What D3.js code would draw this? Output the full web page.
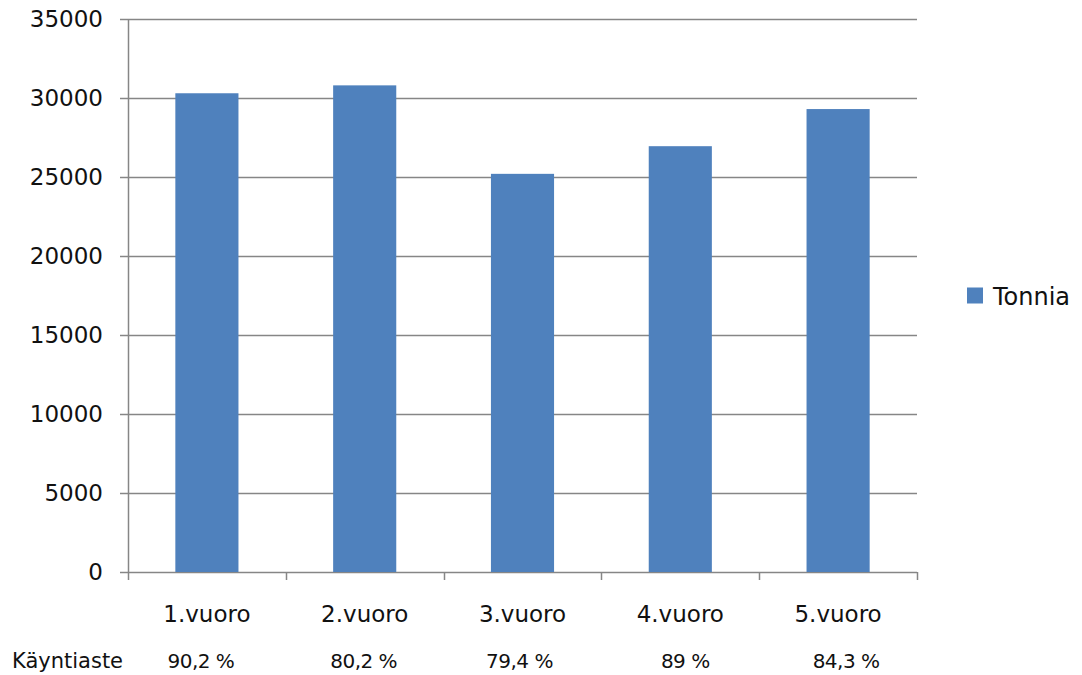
<!DOCTYPE html>
<html>
<head>
<meta charset="utf-8">
<script src="https://cdn.jsdelivr.net/npm/d3@7"></script>
<style>
  body { margin: 0; background: #fff; }
  text { font-family: "DejaVu Sans", Verdana, sans-serif; fill: #111; }
</style>
</head>
<body>
<div id="chart"></div>
<script>
// chart data
var shifts = ["1.vuoro", "2.vuoro", "3.vuoro", "4.vuoro", "5.vuoro"];
var tonnes = [30300, 30800, 25200, 26950, 29300];
var utilization = ["90,2 %", "80,2 %", "79,4 %", "89 %", "84,3 %"];
var yTicks = [0, 5000, 10000, 15000, 20000, 25000, 30000, 35000];
var seriesName = "Tonnia";
var rowLabel = "Käyntiaste";

var margin = { top: 19, right: 165, bottom: 103, left: 128 };
var width = 1082 - margin.left - margin.right,
    height = 675 - margin.top - margin.bottom;

var svg = d3.select("#chart").append("svg")
  .attr("width", 1082)
  .attr("height", 675)
  .append("g")
  .attr("transform", "translate(" + margin.left + "," + margin.top + ")");

var x = d3.scaleBand()
  .domain(shifts)
  .range([0, width])
  .padding(0);

var y = d3.scaleLinear()
  .domain([0, 35000])
  .range([height, 0]);

// gridlines
svg.append("g")
  .attr("class", "grid")
  .selectAll("line")
  .data(yTicks)
  .enter().append("line")
  .attr("x1", -8)
  .attr("x2", width)
  .attr("y1", function (d) { return Math.round(y(d)) + 0.5; })
  .attr("y2", function (d) { return Math.round(y(d)) + 0.5; })
  .attr("stroke", "#868686")
  .attr("stroke-width", 1.5);

// y-axis labels
var yAxis = d3.axisLeft(y)
  .tickValues(yTicks)
  .tickFormat(d3.format("d"))
  .tickSize(0)
  .tickPadding(25);

svg.append("g")
  .attr("class", "y-axis")
  .call(yAxis)
  .call(function (g) { g.select(".domain").remove(); })
  .selectAll("text")
  .style("font-size", "23px")
  .style("fill", "#111");

svg.append("line")
  .attr("x1", 0.5).attr("x2", 0.5)
  .attr("y1", 0).attr("y2", height)
  .attr("stroke", "#868686")
  .attr("stroke-width", 1.5);

// x-axis ticks at category boundaries
var bounds = shifts.map(function (d) { return x(d); }).concat([width]);
svg.append("g")
  .selectAll("line")
  .data(bounds)
  .enter().append("line")
  .attr("x1", function (d) { return Math.round(d) + 0.5; })
  .attr("x2", function (d) { return Math.round(d) + 0.5; })
  .attr("y1", height)
  .attr("y2", height + 8)
  .attr("stroke", "#868686")
  .attr("stroke-width", 1.5);

// bars (gap width 150%)
var barW = x.bandwidth() / 2.5;
svg.append("g")
  .selectAll("rect")
  .data(tonnes)
  .enter().append("rect")
  .attr("x", function (d, i) { return x(shifts[i]) + (x.bandwidth() - barW) / 2; })
  .attr("y", function (d) { return y(d); })
  .attr("width", barW)
  .attr("height", function (d) { return height - y(d); })
  .attr("fill", "#4F81BD");

// category labels
svg.append("g")
  .selectAll("text")
  .data(shifts)
  .enter().append("text")
  .attr("x", function (d) { return x(d) + x.bandwidth() / 2; })
  .attr("y", height + 50)
  .attr("text-anchor", "middle")
  .style("font-size", "23px")
  .text(function (d) { return d; });

// utilization row
svg.append("text")
  .attr("x", 12 - margin.left)
  .attr("y", height + 96)
  .style("font-size", "21px")
  .text(rowLabel);

var nudge = [-6, -1, -3, 5, 8];
svg.append("g")
  .selectAll("text")
  .data(utilization)
  .enter().append("text")
  .attr("x", function (d, i) { return x(shifts[i]) + x.bandwidth() / 2 + nudge[i]; })
  .attr("y", height + 96)
  .attr("text-anchor", "middle")
  .style("font-size", "20px")
  .style("letter-spacing", "-0.5px")
  .text(function (d) { return d; });

// legend
var legend = svg.append("g")
  .attr("transform", "translate(" + (width + 50) + "," + (y(17500) - 8) + ")");
legend.append("rect")
  .attr("width", 16).attr("height", 16)
  .attr("fill", "#4F81BD");
legend.append("text")
  .attr("x", 26).attr("y", 17)
  .style("font-size", "24px")
  .text(seriesName);
</script>
</body>
</html>
